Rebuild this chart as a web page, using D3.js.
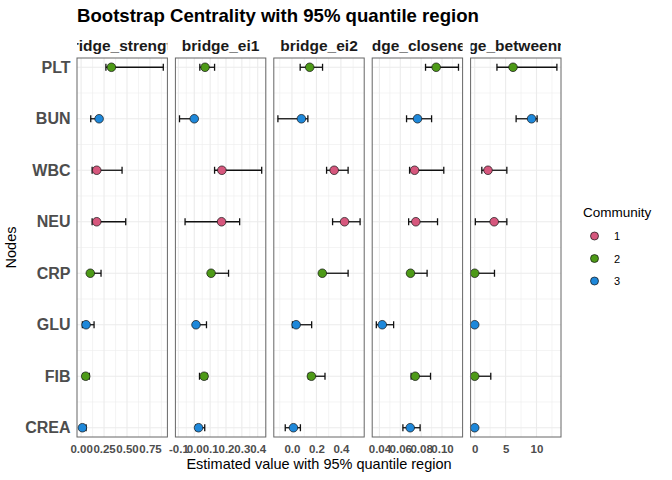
<!DOCTYPE html>
<html>
<head>
<meta charset="utf-8">
<script src="https://cdn.jsdelivr.net/npm/d3@7"></script>
<style>
    body { margin: 0; background: #fff; }
    #chart { width: 672px; height: 480px; }
    text { font-family: "Liberation Sans", Arial, Helvetica, sans-serif; }
</style>
</head>
<body>
<div id="chart"></div>
<script>
// Nodes (top to bottom) and their community
const nodes = ["PLT", "BUN", "WBC", "NEU", "CRP", "GLU", "FIB", "CREA"];
const community = [2, 3, 1, 1, 2, 3, 2, 3];
const communities = [1, 2, 3];
const communityColors = ["#D6577D", "#4D9A17", "#1E88DA"];

const measures = ["bridge_strength", "bridge_ei1", "bridge_ei2", "bridge_closeness", "bridge_betweenness"];

// bootstrap estimate, lower and upper bound of the 95% region, one value per node
const strengthEst = [0.33, 0.196, 0.17, 0.17, 0.10, 0.054, 0.05, 0.014];
const strengthLow = [0.27, 0.105, 0.12, 0.12, 0.09, 0.014, 0.02, 0.0];
const strengthHigh = [0.895, 0.20, 0.446, 0.486, 0.217, 0.141, 0.09, 0.054];

const ei1Est = [0.068, 0.0, 0.174, 0.172, 0.106, 0.011, 0.062, 0.027];
const ei1Low = [0.035, -0.093, 0.128, -0.058, 0.10, 0.0, 0.033, 0.009];
const ei1High = [0.128, 0.005, 0.425, 0.286, 0.216, 0.077, 0.081, 0.066];

const ei2Est = [0.145, 0.077, 0.345, 0.43, 0.248, 0.034, 0.159, 0.012];
const ei2Low = [0.067, -0.115, 0.283, 0.332, 0.24, 0.004, 0.134, -0.055];
const ei2High = [0.25, 0.13, 0.459, 0.557, 0.459, 0.161, 0.27, 0.069];

const closeEst = [0.0944, 0.0765, 0.0737, 0.0749, 0.0698, 0.0427, 0.0743, 0.0695];
const closeLow = [0.0842, 0.066, 0.0689, 0.068, 0.068, 0.037, 0.0704, 0.0625];
const closeHigh = [0.1158, 0.09, 0.1017, 0.0957, 0.0857, 0.0536, 0.089, 0.079];

const betweenEst = [6.2, 9.2, 2.15, 3.15, 0, 0, 0, 0];
const betweenLow = [3.6, 6.7, 1.15, 0.1, 0, 0, 0, 0];
const betweenHigh = [13.3, 10.1, 5.2, 5.2, 3.2, 0, 2.6, 0];

// x tick values and labels per facet
const tickValues = [
    [0, 0.25, 0.5, 0.75],
    [-0.1, 0, 0.1, 0.2, 0.3, 0.4],
    [0, 0.2, 0.4],
    [0.04, 0.06, 0.08, 0.10],
    [0, 5, 10]
];
const tickLabels = [
    ["0.00", "0.25", "0.50", "0.75"],
    ["-0.1", "0.0", "0.1", "0.2", "0.3", "0.4"],
    ["0.0", "0.2", "0.4"],
    ["0.04", "0.06", "0.08", "0.10"],
    ["0", "5", "10"]
];

const estimates = [strengthEst, ei1Est, ei2Est, closeEst, betweenEst];
const lowers = [strengthLow, ei1Low, ei2Low, closeLow, betweenLow];
const uppers = [strengthHigh, ei1High, ei2High, closeHigh, betweenHigh];

class CentralityFacets {
    constructor(containerId) {
        this.container = document.getElementById(containerId);
        this.width = 672;
        this.height = 480;
        this.left = 77;
        this.right = 561;
        this.top = 58;
        this.bottom = 437;
        this.gap = 8;
        this.panelWidth = (this.right - this.left - this.gap * (measures.length - 1)) / measures.length;
        this.color = d3.scaleOrdinal().domain(communities).range(communityColors);
        this.y = d3.scalePoint()
            .domain(nodes)
            .range([this.top, this.bottom])
            .padding(0.18);
    }

    render() {
        this.svg = d3.select(this.container)
            .append("svg")
            .attr("width", this.width)
            .attr("height", this.height);

        this.svg.append("text")
            .attr("x", this.left)
            .attr("y", 22)
            .attr("font-size", 18.6)
            .attr("font-weight", "bold")
            .text("Bootstrap Centrality with 95% quantile region");

        measures.forEach((m, i) => this.drawPanel(i));
        this.drawYAxis();
        this.drawTitles();
        this.drawLegend();
    }

    /**
     * One facet: grid, border, strip, error bars and points
     */
    drawPanel(i) {
        const x0 = this.left + i * (this.panelWidth + this.gap);
        const x1 = x0 + this.panelWidth;
        const lo = d3.min(lowers[i]);
        const hi = d3.max(uppers[i]);
        const pad = (hi - lo) * 0.05;
        const x = d3.scaleLinear().domain([lo - pad, hi + pad]).range([x0, x1]);

        const g = this.svg.append("g");
        const ticks = tickValues[i];
        const step = ticks[1] - ticks[0];
        const minor = d3.range(ticks[0] - step / 2, ticks[ticks.length - 1] + step, step)
            .filter(v => v > x.domain()[0] && v < x.domain()[1]);

        // minor grid
        g.selectAll(".vminor").data(minor).join("line")
            .attr("x1", d => x(d)).attr("x2", d => x(d))
            .attr("y1", this.top).attr("y2", this.bottom)
            .attr("stroke", "#EDEDED").attr("stroke-width", 0.6);
        const mids = d3.pairs(nodes).map(([a, b]) => (this.y(a) + this.y(b)) / 2);
        g.selectAll(".hminor").data(mids).join("line")
            .attr("x1", x0).attr("x2", x1)
            .attr("y1", d => d).attr("y2", d => d)
            .attr("stroke", "#EDEDED").attr("stroke-width", 0.6);

        // major grid
        g.selectAll(".vmajor").data(ticks).join("line")
            .attr("x1", d => x(d)).attr("x2", d => x(d))
            .attr("y1", this.top).attr("y2", this.bottom)
            .attr("stroke", "#EBEBEB").attr("stroke-width", 1.1);
        g.selectAll(".hmajor").data(nodes).join("line")
            .attr("x1", x0).attr("x2", x1)
            .attr("y1", d => this.y(d)).attr("y2", d => this.y(d))
            .attr("stroke", "#EBEBEB").attr("stroke-width", 1.1);

        // x axis labels
        const axis = d3.axisBottom(x)
            .tickValues(ticks)
            .tickFormat((d, k) => tickLabels[i][k])
            .tickSize(0)
            .tickPadding(8);
        const ax = g.append("g")
            .attr("transform", `translate(0,${this.bottom})`)
            .call(axis);
        ax.select(".domain").remove();
        ax.selectAll("text")
            .attr("font-family", "Liberation Sans, Arial, sans-serif")
            .attr("font-size", 11.5)
            .attr("font-weight", "bold")
            .attr("fill", "#4D4D4D");

        // error bars
        const rows = nodes.map((n, k) => ({
            node: n, est: estimates[i][k], low: lowers[i][k], high: uppers[i][k], comm: community[k]
        }));
        const bars = g.selectAll(".bar").data(rows).join("g");
        const cap = 3.5;
        bars.append("line")
            .attr("x1", d => x(d.low)).attr("x2", d => x(d.high))
            .attr("y1", d => this.y(d.node)).attr("y2", d => this.y(d.node));
        bars.append("line")
            .attr("x1", d => x(d.low)).attr("x2", d => x(d.low))
            .attr("y1", d => this.y(d.node) - cap).attr("y2", d => this.y(d.node) + cap);
        bars.append("line")
            .attr("x1", d => x(d.high)).attr("x2", d => x(d.high))
            .attr("y1", d => this.y(d.node) - cap).attr("y2", d => this.y(d.node) + cap);
        bars.selectAll("line").attr("stroke", "#111").attr("stroke-width", 1.3);

        g.selectAll(".pt").data(rows).join("circle")
            .attr("cx", d => x(d.est))
            .attr("cy", d => this.y(d.node))
            .attr("r", 4.3)
            .attr("fill", d => this.color(d.comm))
            .attr("stroke", "#111")
            .attr("stroke-width", 0.7);

        // border
        g.append("rect")
            .attr("x", x0).attr("y", this.top)
            .attr("width", this.panelWidth).attr("height", this.bottom - this.top)
            .attr("fill", "none").attr("stroke", "#666").attr("stroke-width", 1);

        // strip label, clipped to the facet width
        const clipId = "strip-clip-" + i;
        this.svg.append("clipPath").attr("id", clipId)
            .append("rect")
            .attr("x", x0).attr("y", 30)
            .attr("width", this.panelWidth).attr("height", 28);
        this.svg.append("text")
            .attr("clip-path", `url(#${clipId})`)
            .attr("x", (x0 + x1) / 2)
            .attr("y", 51)
            .attr("text-anchor", "middle")
            .attr("font-size", 15.5)
            .attr("font-weight", "bold")
            .attr("fill", "#1A1A1A")
            .text(measures[i]);
    }

    drawYAxis() {
        this.svg.append("g").selectAll("text").data(nodes).join("text")
            .attr("x", this.left - 6.5)
            .attr("y", d => this.y(d) + 5.5)
            .attr("text-anchor", "end")
            .attr("font-size", 16)
            .attr("font-weight", "bold")
            .attr("fill", "#4D4D4D")
            .text(d => d);
    }

    drawTitles() {
        this.svg.append("text")
            .attr("x", (this.left + this.right) / 2)
            .attr("y", 469)
            .attr("text-anchor", "middle")
            .attr("font-size", 14.5)
            .text("Estimated value with 95% quantile region");

        this.svg.append("text")
            .attr("transform", `translate(16,${(this.top + this.bottom) / 2}) rotate(-90)`)
            .attr("text-anchor", "middle")
            .attr("font-size", 14.5)
            .text("Nodes");
    }

    drawLegend() {
        const lg = this.svg.append("g").attr("transform", "translate(583,0)");
        lg.append("text")
            .attr("x", 0).attr("y", 217)
            .attr("font-size", 13.5)
            .text("Community");
        const items = lg.selectAll(".item").data(communities).join("g")
            .attr("transform", (d, k) => `translate(0,${236 + k * 22.5})`);
        items.append("circle")
            .attr("cx", 11.5).attr("cy", 0).attr("r", 4)
            .attr("fill", d => this.color(d))
            .attr("stroke", "#111").attr("stroke-width", 0.7);
        items.append("text")
            .attr("x", 31).attr("y", 4)
            .attr("font-size", 11)
            .text(d => d);
    }
}

const chart = new CentralityFacets("chart");
chart.render();
</script>
</body>
</html>
